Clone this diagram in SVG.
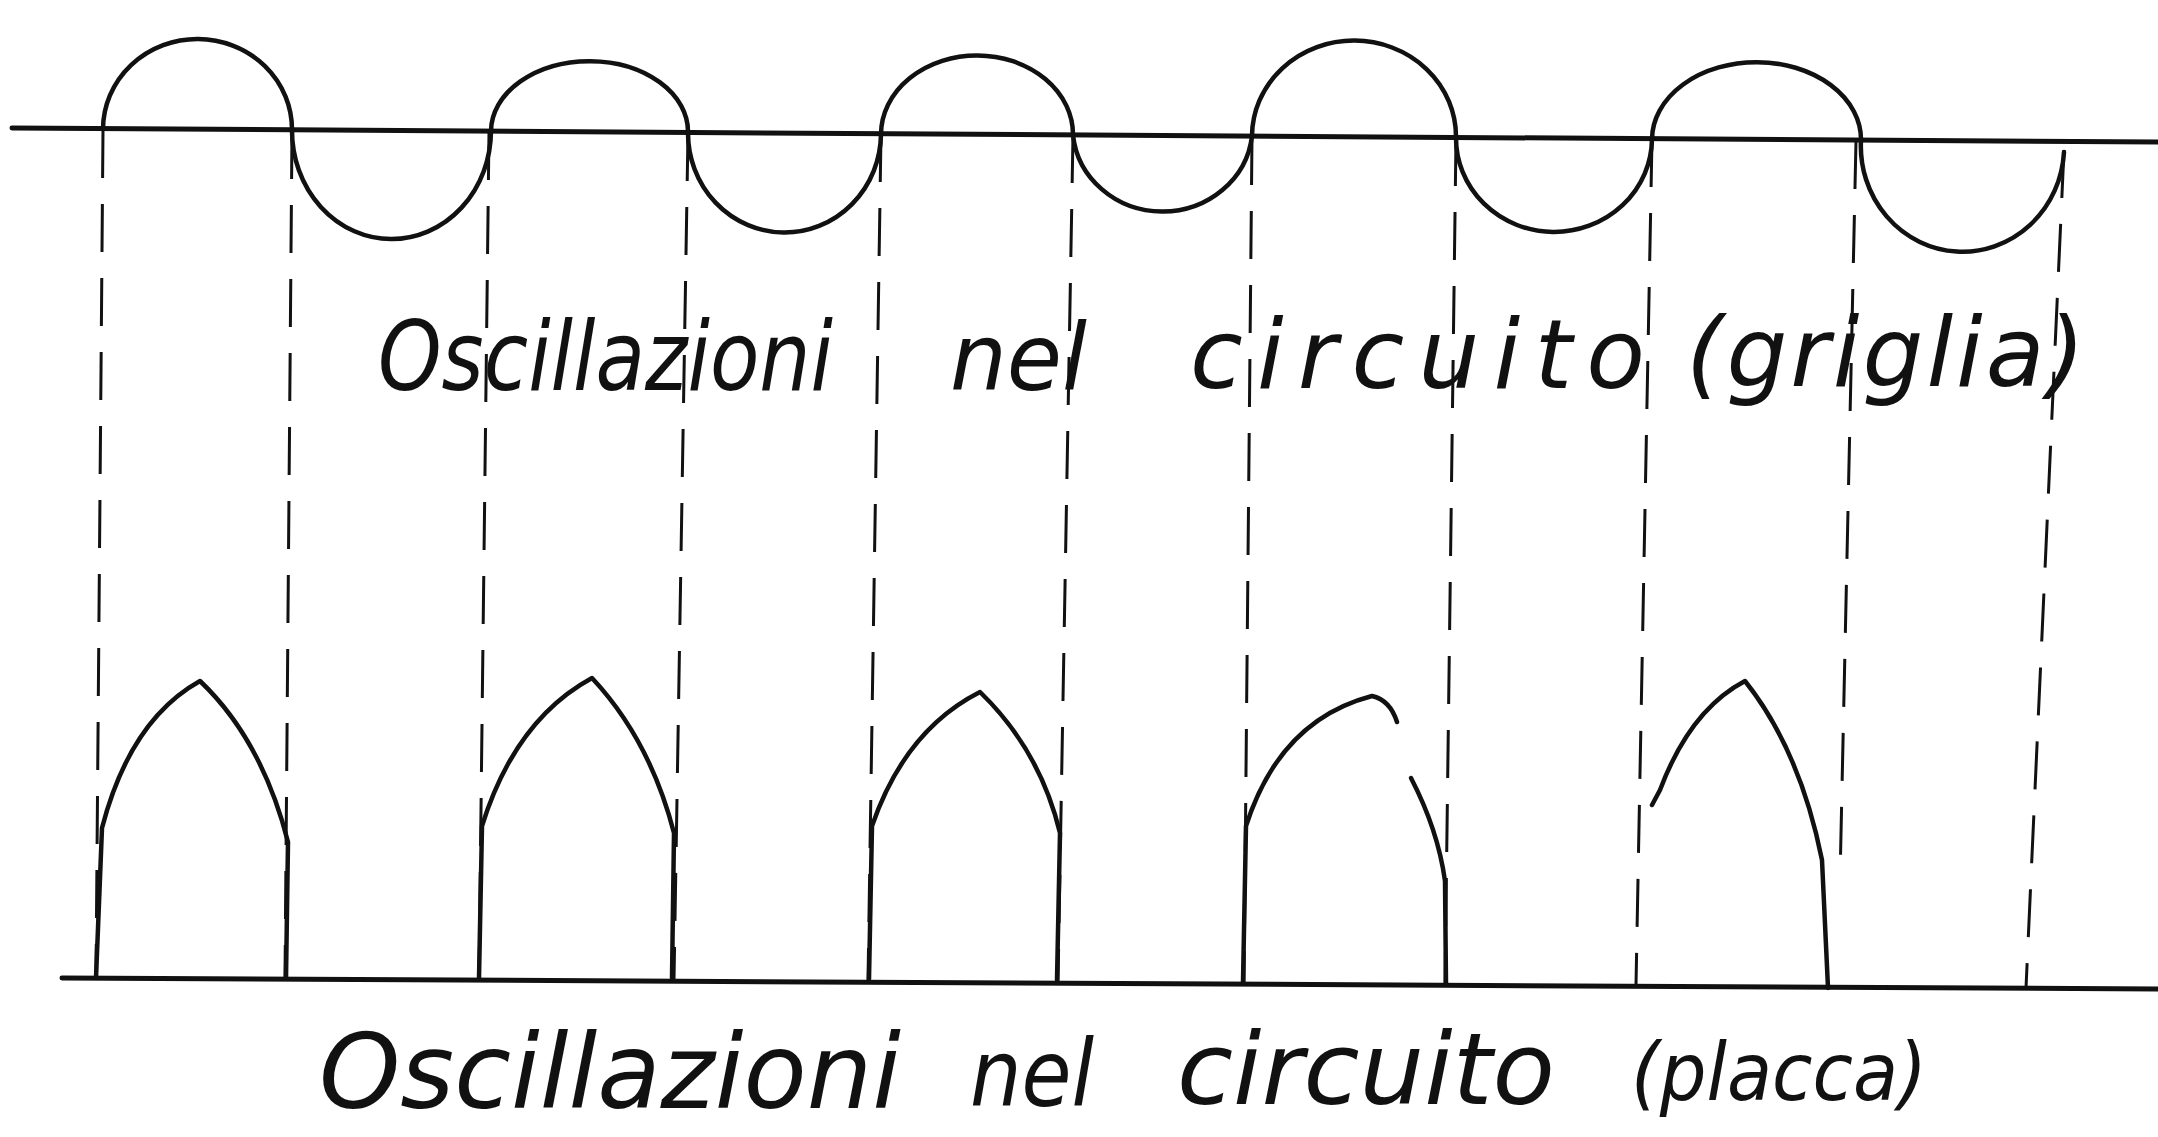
<svg xmlns="http://www.w3.org/2000/svg" width="2158" height="1137" viewBox="0 0 2158 1137">
<style>
.ax{stroke:#111;stroke-width:5;fill:none;stroke-linecap:round}
.wave{stroke:#111;stroke-width:4.5;fill:none;stroke-linecap:round}
.dash{stroke:#111;stroke-width:3;fill:none;stroke-dasharray:48 26}
.pulse{stroke:#111;stroke-width:4.5;fill:none;stroke-linecap:round;stroke-linejoin:round}
.lbl{font-family:"DejaVu Sans","Liberation Sans",sans-serif;font-style:italic;font-weight:normal;fill:#111}
</style>
<rect width="2158" height="1137" fill="#fff"/>
<g id="axes">
<path class="ax" d="M12,128 L2158,142"/>
<path class="ax" d="M62,978 L2158,989"/>
</g>
<g id="grid-wave">
<path class="wave" d="M103,129 A94 90 0 0 1 292,130"/>
<path class="wave" d="M292,130 A99 108 0 0 0 491,131"/>
<path class="wave" d="M491,131 A98 70 0 0 1 688,132"/>
<path class="wave" d="M688,132 A96 99 0 0 0 881,134"/>
<path class="wave" d="M881,134 A96 79 0 0 1 1073,135"/>
<path class="wave" d="M1073,135 A90 85 0 0 0 1252,136"/>
<path class="wave" d="M1252,136 A102 96 0 0 1 1456,137"/>
<path class="wave" d="M1456,137 A98 94 0 0 0 1652,139"/>
<path class="wave" d="M1652,139 A104 77 0 0 1 1861,140"/>
<path class="wave" d="M1861,140 A101 105 0 0 0 2064,152"/>
</g>
<g id="connectors">
<path class="dash" d="M103,130 L96,978"/>
<path class="dash" d="M292,131 L285,978"/>
<path class="dash" d="M489,132 L479,979"/>
<path class="dash" d="M688,133 L674,980"/>
<path class="dash" d="M881,134 L868,981"/>
<path class="dash" d="M1073,135 L1058,982"/>
<path class="dash" d="M1252,137 L1244,983"/>
<path class="dash" d="M1456,138 L1445,984"/>
<path class="dash" d="M1652,139 L1636,985"/>
<path class="dash" d="M1856,141 L1840,880"/>
<path class="dash" d="M2064,150 L2026,988"/>
</g>
<g id="plate-pulses">
<path class="pulse" d="M96,978 L102,828 Q130,720 200,681 Q262,740 288,842 L286,978"/>
<path class="pulse" d="M479,978 L482,826 Q515,720 592,678 Q650,740 674,833 L672,978"/>
<path class="pulse" d="M869,979 L872,826 Q905,730 980,692 Q1040,750 1060,833 L1057,980"/>
<path class="pulse" d="M1243,982 L1246,826 Q1280,720 1372,696 Q1390,700 1397,722"/>
<path class="pulse" d="M1411,778 Q1438,830 1445,881 L1446,984"/>
<path class="pulse" d="M1652,805 L1660,790 Q1690,710 1745,681 Q1800,750 1822,860 L1828,988"/>
</g>
<g id="label-grid">
<text class="lbl" x="378" y="390" font-size="96" textLength="455" lengthAdjust="spacingAndGlyphs">Oscillazioni</text>
<text class="lbl" x="950" y="390" font-size="92" textLength="137" lengthAdjust="spacingAndGlyphs">nel</text>
<text class="lbl" x="1190" y="388" font-size="96" textLength="455" lengthAdjust="spacing">circuito</text>
<text class="lbl" x="1686" y="386" font-size="96" textLength="399" lengthAdjust="spacing">(griglia)</text>
</g>
<g id="label-plate">
<text class="lbl" x="319" y="1108" font-size="104" textLength="582" lengthAdjust="spacingAndGlyphs">Oscillazioni</text>
<text class="lbl" x="970" y="1106" font-size="92" textLength="124" lengthAdjust="spacingAndGlyphs">nel</text>
<text class="lbl" x="1177" y="1104" font-size="100" textLength="378" lengthAdjust="spacingAndGlyphs">circuito</text>
<text class="lbl" x="1631" y="1100" font-size="80" textLength="296" lengthAdjust="spacingAndGlyphs">(placca)</text>
</g>
</svg>
